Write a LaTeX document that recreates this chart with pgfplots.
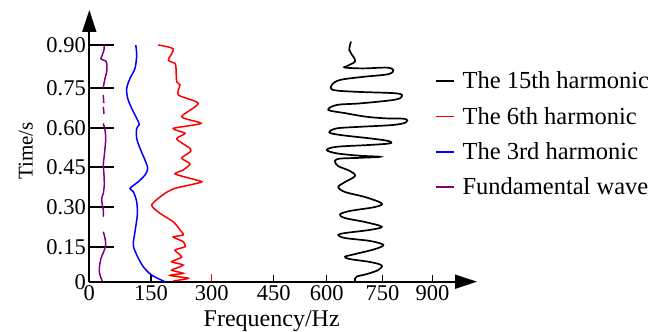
\documentclass[border=0pt]{standalone}
\usepackage{fontspec}
\setmainfont{Liberation Serif}
\usepackage{pgfplots}
\pgfplotsset{compat=1.18}
\usetikzlibrary{arrows.meta}
\definecolor{fpurple}{RGB}{128,0,128}
\begin{document}
\begin{tikzpicture}
\path[use as bounding box] (-89.3bp,-50.3bp) rectangle (574.7bp,281.7bp);
\begin{axis}[
  anchor=south west, at={(0,0)},
  scale only axis, width=387.7bp, height=271.7bp,
  xmin=0, xmax=1016.7, ymin=0, ymax=1.0331,
  axis lines=left,
  axis line style={draw=none},
  clip=false,
  xtick=\empty,
  ytick={0.1331,0.2852,0.4350,0.5855,0.7354,0.9},
  yticklabels={},
  tick align=inside, major tick length=25bp,
  tick style={line width=1.8bp, black},
]
\end{axis}
\begin{axis}[
  anchor=south west, at={(0,0)},
  scale only axis, width=387.7bp, height=271.7bp,
  xmin=0, xmax=1016.7, ymin=0, ymax=1.0331,
  axis lines=left,
  axis line style={line width=1.8bp, -{Triangle[length=22bp,width=14bp]}},
  clip=false,
  xtick={0,161.8,321,483.9,622.5,768.9,900},
  xticklabels={\textrm{0},\textrm{150},\textrm{300},\textrm{450},\textrm{600},\textrm{750},\textrm{900}},
  ytick={0,0.1331,0.2852,0.4350,0.5855,0.7354,0.9},
  yticklabels={\textrm{0},\textrm{0.15},\textrm{0.30},\textrm{0.45},\textrm{0.60},\textrm{0.75},\textrm{0.90}},
  tick align=inside, major tick length=7bp,
  tick style={line width=1.3bp, black},
  /pgf/number format/assume math mode=true,
  ticklabel style={font=\fontsize{22.5bp}{27bp}\selectfont},
  xlabel={Frequency/Hz},
  xlabel style={font=\fontsize{24bp}{28bp}\selectfont, at={(axis description cs:0.4705,0)}, anchor=base, yshift=-44.8bp},
  ylabel={Time/s},
  ylabel style={font=\fontsize{21bp}{25bp}\selectfont, at={(axis description cs:-0.1465,0.481)}, anchor=base, rotate=0},
  legend cell align=left,
  legend style={draw=none, fill=none, at={(axis description cs:0.8917,0.772)}, anchor=north west,
    inner sep=0pt, outer sep=0pt, font=\fontsize{24.5bp}{29bp}\selectfont, row sep=16.8bp,
    nodes={inner sep=0pt}, /tikz/every odd column/.append style={column sep=8bp}},
  legend image code/.code={\draw[#1, line width=1.6bp] (0bp,0bp) -- (18bp,0bp);},
]
\addplot[black, line width=1.7bp, smooth, tension=0.55] coordinates {
(686.3,0.913)(681.8,0.881)(692.3,0.856)(696.8,0.837)(675.0,0.819)(670.6,0.814)(718.5,0.811)(779.9,0.814)(797.2,0.805)(784.1,0.789)(718.5,0.779)(657.4,0.767)(635.7,0.748)(639.9,0.729)(701.2,0.722)(806.1,0.716)(819.2,0.703)(797.2,0.691)(709.9,0.678)(648.8,0.672)(626.8,0.653)(670.6,0.641)(727.5,0.627)(779.9,0.621)(827.9,0.619)(830.5,0.606)(797.2,0.596)(709.9,0.589)(648.8,0.583)(629.4,0.568)(657.4,0.558)(736.1,0.545)(784.1,0.535)(788.6,0.526)(736.1,0.520)(648.8,0.513)(622.6,0.501)(648.8,0.488)(709.9,0.479)(762.3,0.475)(709.9,0.471)(657.4,0.468)(644.3,0.459)(652.2,0.440)(683.7,0.421)(696.8,0.402)(670.6,0.379)(653.0,0.360)(670.6,0.341)(723.0,0.322)(766.8,0.298)(749.2,0.284)(683.7,0.269)(657.4,0.256)(670.6,0.242)(723.0,0.227)(766.8,0.209)(736.1,0.197)(670.6,0.185)(653.0,0.178)(670.6,0.166)(736.1,0.155)(771.0,0.140)(749.2,0.124)(696.8,0.105)(670.6,0.095)(683.7,0.086)(736.1,0.075)(766.8,0.062)(757.1,0.044)(727.5,0.029)(702.0,0.020)(696.8,0.012)(696.8,0.0)
};
\addlegendentry{The 15th harmonic}
\addplot[red, line width=1.5bp, smooth, tension=0.4] coordinates {
(180.9,0.900)(220.3,0.885)(207.2,0.843)(224.7,0.830)(227.4,0.811)(229.2,0.760)(237.9,0.748)(233.4,0.710)(285.8,0.678)(242.3,0.627)(292.9,0.602)(220.3,0.583)(251.0,0.564)(229.2,0.543)(264.1,0.507)(264.1,0.493)(242.3,0.470)(264.1,0.448)(246.5,0.425)(224.7,0.410)(264.1,0.393)(294.8,0.380)(264.1,0.368)(224.7,0.355)(198.5,0.336)(163.6,0.292)(185.4,0.260)(220.3,0.228)(237.9,0.197)(246.5,0.178)(220.3,0.170)(246.5,0.152)(251.0,0.133)(224.7,0.120)(242.3,0.094)(216.1,0.076)(246.5,0.063)(216.1,0.044)(246.5,0.032)(211.6,0.024)(259.6,0.013)(220.3,0.003)
};
\addlegendentry{The 6th harmonic}
\addplot[blue, line width=1.5bp, smooth, tension=0.5] coordinates {
(121.7,0.900)(124.3,0.862)(119.8,0.811)(106.7,0.773)(98.1,0.735)(100.7,0.697)(111.2,0.659)(124.3,0.621)(131.1,0.598)(124.3,0.583)(124.3,0.545)(133.0,0.507)(144.2,0.469)(153.2,0.431)(146.1,0.406)(128.5,0.380)(106.7,0.355)(115.4,0.342)(124.3,0.304)(125.9,0.254)(119.8,0.190)(115.4,0.140)(124.3,0.102)(141.6,0.057)(163.6,0.025)(198.5,0.000)
};
\addlegendentry{The 3rd harmonic}
\addplot[fpurple, line width=1.5bp, smooth, unbounded coords=jump] coordinates {
(38.5,0.900)(38.5,0.881)(32.5,0.856)(30.7,0.847)(43.0,0.839)(46.4,0.824)(45.6,0.798)(41.2,0.773)(37.8,0.748)(36.7,0.735)
(36.7,nan)
(36.7,0.710)(38.0,0.679)
(36.7,nan)
(36.7,0.665)(38.5,0.638)
(36.7,nan)
(36.7,0.602)(41.2,0.577)(43.0,0.545)(41.2,0.507)(38.5,0.469)(36.7,0.444)(38.5,0.406)(39.3,0.368)(36.7,0.336)(32.5,0.317)(34.1,0.292)(36.7,0.273)(36.7,0.247)
(36.7,nan)
(36.7,0.190)(41.2,0.165)(43.0,0.140)(37.8,0.114)(30.7,0.089)(26.2,0.051)(28.1,0.025)(34.1,0.003)
};
\addlegendentry{Fundamental wave}
\addplot[red, line width=1.5bp, forget plot] coordinates {(321,0) (321,0.029)};
\end{axis}
\end{tikzpicture}
\end{document}
